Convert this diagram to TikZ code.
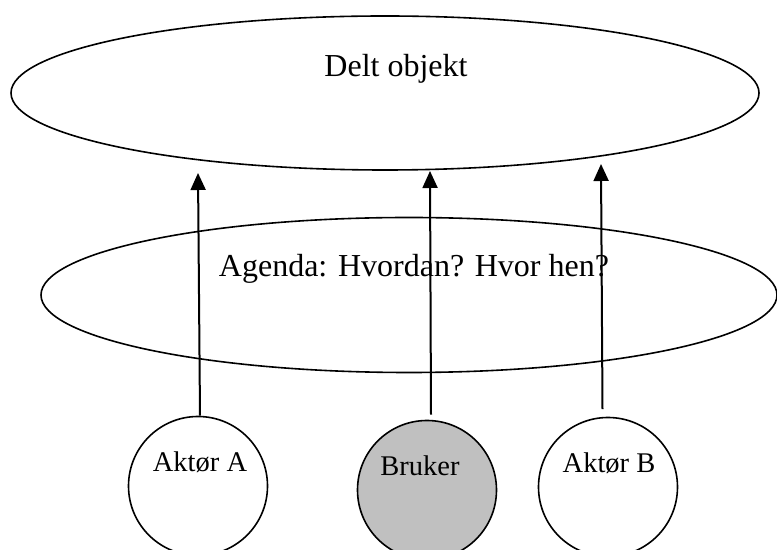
\documentclass[tikz,border=0pt]{standalone}
\usepackage{fontspec}
\setmainfont{Liberation Serif}
\usetikzlibrary{shapes.geometric,arrows.meta}
\begin{document}
\begin{tikzpicture}[x=0.5pt,y=-0.5pt,
  oval/.style={draw=black,line width=0.8pt,ellipse,inner sep=0pt},
  actor/.style={draw=black,line width=0.8pt,circle,inner sep=0pt,minimum size=69.5pt},
  bigtxt/.style={font=\fontsize{16pt}{19pt}\selectfont,anchor=base,inner sep=0pt},
  smalltxt/.style={font=\fontsize{14.25pt}{17pt}\selectfont,anchor=base,inner sep=0pt},
  arr/.style={line width=1pt,-{Triangle[width=7.5pt,length=8.5pt]}}]
\useasboundingbox (0,0) rectangle (777,550);
% ellipses
\node[oval,minimum width=374pt,minimum height=77pt] (shared) at (385,93) {};
\node[bigtxt] (sharedtxt) at (396,77) {Delt objekt};
\node[oval,minimum width=368pt,minimum height=77.5pt] (agenda) at (409,295) {};
\node[bigtxt] (agendatxt) at (414,277) {Agenda: Hvordan? Hvor hen?};
% actors
\node[actor] (A) at (198,486) {};
\node[smalltxt] (Atxt) at (200,472) {Aktør A};
\node[actor,fill={rgb,255:red,192;green,192;blue,192}] (U) at (427,490) {};
\node[smalltxt] (Utxt) at (420,476) {Bruker};
\node[actor] (B) at (608,487) {};
\node[smalltxt] (Btxt) at (609,473) {Aktør B};
% arrow tips
\coordinate (tA) at (198,173);
\coordinate (tU) at (430,171);
\coordinate (tB) at (601,164);
\draw[arr] ([xshift=1pt]A.north) -- (tA);
\draw[arr] ([xshift=2pt,yshift=2.5pt]U.north) -- (tU);
\draw[arr] ([xshift=-2.75pt,yshift=3.75pt]B.north) -- (tB);
\end{tikzpicture}
\end{document}
